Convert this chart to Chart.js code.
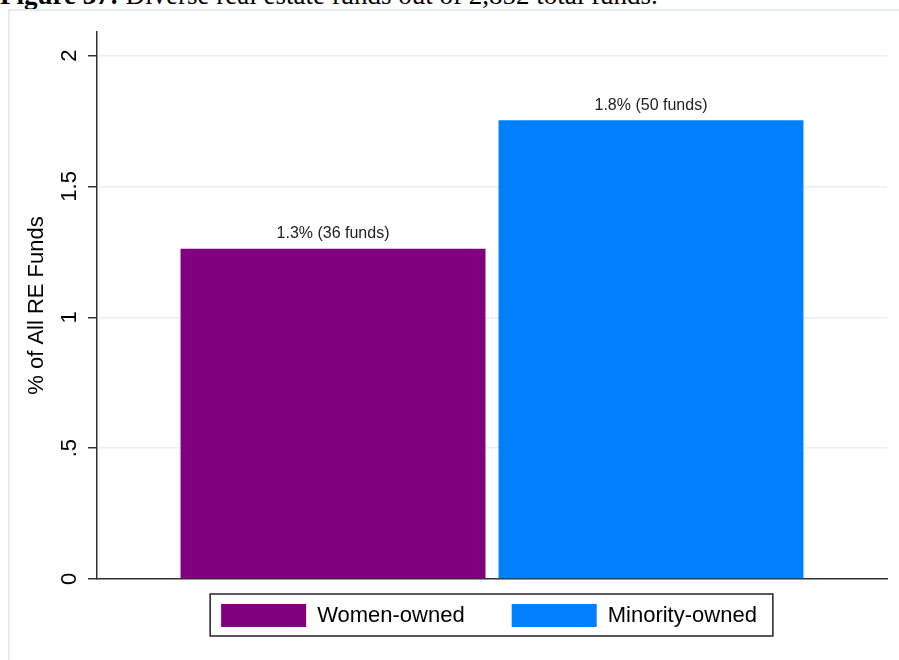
<!DOCTYPE html>
<html>
<head>
<meta charset="utf-8">
<script src="https://cdn.jsdelivr.net/npm/chart.js@4"></script>
<style>
  html, body { margin: 0; padding: 0; background: #ffffff; overflow: hidden; }
  #wrap { position: relative; width: 899px; height: 660px; overflow: hidden; }
  #title { position: absolute; left: 0; top: -18px; font-family: "Liberation Serif", "Times New Roman", serif;
           font-size: 27px; line-height: 27px; color: #000; white-space: nowrap; }
  #frame { position: absolute; left: 8px; top: 9px; width: 1000px; height: 1000px;
           border-left: 2px solid #e6edf1; border-top: 2px solid #e6edf1; }
  canvas { position: absolute; left: 0; top: 0; }
</style>
</head>
<body>
<div id="wrap">
  <div id="title"><b>Figure 37:</b> Diverse real estate funds out of 2,852 total funds.</div>
  <div id="frame"></div>
  <canvas id="c" width="899" height="660"></canvas>
</div>
<script>
// ---- data ----
const categories = [""];
const seriesNames = ["Women-owned", "Minority-owned"];
const seriesValues = [1.262, 1.753];
const barLabels = ["1.3% (36 funds)", "1.8% (50 funds)"];
const yTickValues = [0, 0.5, 1, 1.5, 2];
const yTickLabels = ["0", ".5", "1", "1.5", "2"];
const yAxisTitle = "% of All RE Funds";

// ---- styles ----
const seriesColors = ["#800080", "#0080ff"];
const FONT = "'Liberation Sans', Arial, sans-serif";
const LEG_PAD = 47;

const datasets = seriesNames.map((name, i) => ({
  label: name,
  data: [seriesValues[i]],
  backgroundColor: seriesColors[i],
  borderWidth: 0,
  categoryPercentage: 0.805,
  barPercentage: 0.959
}));

const barLabelPlugin = {
  id: 'barLabels',
  afterDatasetsDraw(chart) {
    const ctx = chart.ctx;
    ctx.save();
    ctx.font = "16px " + FONT;
    ctx.fillStyle = "#222";
    ctx.textAlign = "center";
    ctx.textBaseline = "middle";
    chart.data.datasets.forEach((ds, i) => {
      const meta = chart.getDatasetMeta(i);
      meta.data.forEach(el => {
        ctx.fillText(barLabels[i], el.x, el.y - 15);
      });
    });
    ctx.restore();
  }
};

const legendPlacePlugin = {
  id: 'legendPlace',
  afterLayout(chart) {
    const lg = chart.legend;
    const shift = (chart.chartArea.bottom - 22) - lg.top;
    lg.top += shift; lg.bottom += shift;
    lg.left -= 3; lg.right -= 3;
  },
  afterDraw(chart) {
    const lg = chart.legend;
    const lw = lg.lineWidths[0];
    const startX = (lg.left + LEG_PAD + lg.right - lw) / 2;
    const endX = startX + lw - LEG_PAD;
    const boxTop = lg.top + LEG_PAD;
    const ctx = chart.ctx;
    ctx.save();
    ctx.strokeStyle = "#222";
    ctx.lineWidth = 1.5;
    ctx.strokeRect(startX - 11, boxTop - 10, (endX - startX) + 27, 42);
    ctx.restore();
  }
};

new Chart(document.getElementById('c'), {
  type: 'bar',
  data: { labels: categories, datasets },
  options: {
    responsive: false,
    animation: false,
    devicePixelRatio: 1,
    layout: { padding: { left: 0, top: 32, right: 12, bottom: -7 } },
    plugins: {
      legend: {
        position: 'bottom',
        fullSize: false,
        labels: {
          boxWidth: 85, boxHeight: 23, padding: LEG_PAD,
          color: '#000',
          font: { family: FONT, size: 22 }
        }
      },
      tooltip: { enabled: false },
      title: { display: false }
    },
    scales: {
      x: {
        grid: { display: false },
        ticks: { display: false },
        border: { display: true, color: '#333', width: 1.5 }
      },
      y: {
        min: 0, max: 2.09,
        afterBuildTicks(scale) { scale.ticks = yTickValues.map(v => ({ value: v })); },
        afterFit(scale) { scale.width = 97; },
        ticks: {
          minRotation: 90, maxRotation: 90,
          crossAlign: 'center', padding: 3,
          color: '#000',
          font: { family: FONT, size: 22 },
          callback: (v) => { const i = yTickValues.indexOf(v); return i >= 0 ? yTickLabels[i] : ''; }
        },
        grid: { color: '#e8f0f2', lineWidth: 1.5, tickLength: 9, tickColor: '#333', tickWidth: 1.5 },
        border: { display: true, color: '#333', width: 1.5 },
        title: {
          display: true, text: yAxisTitle, color: '#000',
          font: { family: FONT, size: 22 },
          padding: { top: 24, bottom: 0 }
        }
      }
    }
  },
  plugins: [barLabelPlugin, legendPlacePlugin]
});
</script>
</body>
</html>
